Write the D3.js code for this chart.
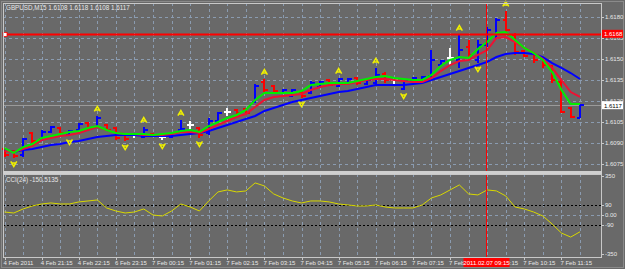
<!DOCTYPE html>
<html><head><meta charset="utf-8">
<script src="https://cdn.jsdelivr.net/npm/d3@7"></script>
<style>
html,body{margin:0;padding:0;background:#696969;}
svg{display:block;}
text{font-family:"Liberation Sans",Arial,sans-serif;}
</style></head>
<body>
<svg id="c" width="625" height="269"></svg>
<script>
// ---- data ----
const symbolTitle = "GBPUSD,M15  1.6108 1.6118 1.6108 1.6117";
const cciTitle = "CCI(24) -150.5135";
const opens = [1.60857,1.60843,1.60814,1.60971,1.60929,1.60979,1.61007,1.60957,1.60993,1.61043,
 1.61014,1.61029,1.61007,1.60957,1.60957,1.60943,1.60964,1.60943,1.60943,1.60993,
 1.61029,1.61007,1.60971,1.61057,1.61121,1.61136,1.61143,1.61193,1.61336,1.61307,
 1.61257,1.61236,1.61264,1.61257,1.61300,1.61350,1.61307,1.61329,1.61364,1.61321,
 1.61329,1.61393,1.61350,1.61286,1.61343,1.61350,1.61379,1.61457,1.61507,1.61493,
 1.61586,1.61493,1.61600,1.61671,1.61779,1.61671,1.61557,1.61543,1.61507,1.61450,
 1.61336,1.61150,1.6108];
const highs = [1.60864,1.60850,1.60936,1.60979,1.60993,1.61021,1.61014,1.60993,1.61043,1.61050,
 1.61093,1.61036,1.61014,1.60964,1.60971,1.61014,1.60971,1.60957,1.60979,1.61064,
 1.61057,1.61014,1.61079,1.61121,1.61150,1.61143,1.61150,1.61321,1.61357,1.61314,
 1.61286,1.61286,1.61271,1.61343,1.61343,1.61357,1.61364,1.61364,1.61371,1.61357,
 1.61436,1.61407,1.61364,1.61357,1.61371,1.61379,1.61564,1.61493,1.61579,1.61671,
 1.61636,1.61636,1.61729,1.61793,1.61843,1.61686,1.61564,1.61550,1.61514,1.61457,
 1.61350,1.61157,1.6118];
const lows = [1.60800,1.60793,1.60800,1.60900,1.60914,1.60971,1.60964,1.60950,1.60986,1.60993,
 1.61007,1.60986,1.60921,1.60914,1.60936,1.60936,1.60943,1.60921,1.60936,1.60986,
 1.60979,1.60936,1.60957,1.61043,1.61093,1.61107,1.61100,1.61186,1.61264,1.61264,
 1.61250,1.61229,1.61221,1.61250,1.61293,1.61307,1.61300,1.61321,1.61314,1.61314,
 1.61314,1.61329,1.61307,1.61279,1.61336,1.61343,1.61364,1.61450,1.61457,1.61436,
 1.61514,1.61471,1.61586,1.61650,1.61686,1.61529,1.61514,1.61471,1.61436,1.61329,
 1.61114,1.61079,1.6108];
const closes = [1.60814,1.60807,1.60929,1.60914,1.60979,1.61014,1.60971,1.60986,1.61036,1.61007,
 1.61079,1.60993,1.60936,1.60929,1.60957,1.60993,1.60950,1.60943,1.60971,1.61000,
 1.61029,1.60957,1.61057,1.61114,1.61121,1.61114,1.61114,1.61307,1.61279,1.61271,
 1.61279,1.61279,1.61236,1.61329,1.61336,1.61314,1.61357,1.61357,1.61329,1.61350,
 1.61386,1.61350,1.61350,1.61343,1.61364,1.61371,1.61493,1.61486,1.61507,1.61564,
 1.61529,1.61600,1.61707,1.61779,1.61707,1.61550,1.61521,1.61493,1.61457,1.61350,
 1.61121,1.61086,1.6117];
const maFast = [1.60864,1.60829,1.60871,1.60893,1.60936,1.60950,1.60964,1.60979,1.60986,1.61007,
 1.61021,1.60993,1.60971,1.60964,1.60964,1.60964,1.60957,1.60964,1.60971,1.60986,
 1.60993,1.60979,1.61021,1.61050,1.61079,1.61100,1.61136,1.61207,1.61257,1.61257,
 1.61257,1.61257,1.61271,1.61314,1.61321,1.61329,1.61329,1.61329,1.61343,1.61357,
 1.61371,1.61379,1.61364,1.61357,1.61350,1.61350,1.61386,1.61450,1.61493,1.61514,
 1.61507,1.61571,1.61621,1.61686,1.61693,1.61636,1.61579,1.61543,1.61493,1.61407,
 1.61279,1.61179,1.61179];
const maMid = [1.60843,1.60836,1.60857,1.60879,1.60921,1.60936,1.60950,1.60957,1.60971,1.60993,
 1.61014,1.60993,1.60971,1.60964,1.60964,1.60957,1.60957,1.60957,1.60964,1.60979,
 1.60979,1.60971,1.61000,1.61029,1.61057,1.61086,1.61107,1.61157,1.61207,1.61229,
 1.61236,1.61243,1.61250,1.61279,1.61300,1.61314,1.61321,1.61321,1.61336,1.61350,
 1.61357,1.61357,1.61350,1.61343,1.61336,1.61336,1.61364,1.61414,1.61457,1.61486,
 1.61493,1.61529,1.61564,1.61650,1.61657,1.61621,1.61579,1.61543,1.61500,1.61436,
 1.61350,1.61264,1.61229];
const maSlow = [1.60850,1.60836,1.60850,1.60857,1.60871,1.60886,1.60893,1.60907,1.60914,1.60929,
 1.60943,1.60950,1.60957,1.60957,1.60957,1.60950,1.60950,1.60950,1.60950,1.60957,
 1.60964,1.60971,1.60986,1.61007,1.61029,1.61050,1.61071,1.61093,1.61129,1.61150,
 1.61171,1.61193,1.61207,1.61221,1.61236,1.61250,1.61264,1.61271,1.61286,1.61300,
 1.61314,1.61314,1.61314,1.61314,1.61321,1.61329,1.61350,1.61371,1.61393,1.61414,
 1.61436,1.61457,1.61479,1.61514,1.61536,1.61543,1.61543,1.61536,1.61514,1.61471,
 1.61436,1.61400,1.61357];
const cci = [27,18,54,81,99,108,99,99,117,126,
 135,63,36,18,27,54,0,-9,36,99,
 72,36,126,207,225,207,216,288,261,189,
 153,126,108,126,126,117,99,90,81,81,
 90,72,63,63,63,90,153,180,225,270,
 189,180,225,216,171,72,54,27,-9,-81,
 -162,-198,-150.5];
const arrowUpIdx = [10,15,19,28,36,40,49,54];
const arrowDownIdx = [1,7,13,17,21,32,43,51];
const timeLabelIdx = [0,4,8,12,16,20,24,28,32,36,40,44,48,52,56,60];
const timeLabels = ["4 Feb 2011","4 Feb 21:15","4 Feb 22:15","6 Feb 23:15","7 Feb 00:15","7 Feb 01:15",
 "7 Feb 02:15","7 Feb 03:15","7 Feb 04:15","7 Feb 05:15","7 Feb 06:15","7 Feb 07:15","7 Feb 08:15",
 "7 Feb 09:15","7 Feb 10:15","7 Feb 11:15"];
const priceTicks = [1.6180,1.6165,1.6150,1.6135,1.6120,1.6105,1.6090,1.6075];
const cciTicks = [350,90,0,-90,-350];
const cciTickLabels = ["350","90","0.00","-90","-350"];
const cciLevels = [90,-90];
const hLinePrice = 1.6168;
const bidPrice = 1.6117;
const vLineIdx = 52;
const vLineLabel = "2011.02.07 09:15";

// ---- drawing ----
const svg = d3.select("#c");
const W = 625, H = 269;
const L = 3, R = 601, mainTop = 3, mainBot = 171, subTop = 174, subBot = 257;
const n = closes.length;
const x = d3.scaleLinear().domain([0, n - 1]).range([4.5, 580]);
const y = d3.scaleLinear().domain([1.6075, 1.6180]).range([164, 17]);
const yc = d3.scaleLinear().domain([-350, 350]).range([254, 176]);
const px = i => Math.round(x(i)) + 0.5;

svg.append("rect").attr("width", W).attr("height", H).attr("fill", "#696969");

const gridCol = "#8a9bb0";
const gridIdx = d3.range(0, n, 2);
[[mainTop, mainBot], [subTop, subBot]].forEach(([t, b]) => {
  svg.append("g").selectAll("line").data(gridIdx).join("line")
    .attr("x1", i => px(i)).attr("x2", i => px(i)).attr("y1", t).attr("y2", b)
    .attr("stroke", gridCol).attr("stroke-width", 1).attr("stroke-dasharray", "3,3")
    .attr("shape-rendering", "crispEdges");
});
svg.append("g").selectAll("line").data(priceTicks).join("line")
  .attr("x1", L).attr("x2", R).attr("y1", d => Math.round(y(d)) + 0.5).attr("y2", d => Math.round(y(d)) + 0.5)
  .attr("stroke", gridCol).attr("stroke-dasharray", "3,3").attr("shape-rendering", "crispEdges");
svg.append("line").attr("x1", L).attr("x2", R).attr("y1", Math.round(yc(0)) + 0.5).attr("y2", Math.round(yc(0)) + 0.5)
  .attr("stroke", gridCol).attr("stroke-dasharray", "3,3").attr("shape-rendering", "crispEdges");
svg.append("g").selectAll("line").data(cciLevels).join("line")
  .attr("x1", L).attr("x2", R).attr("y1", d => Math.round(yc(d)) + 0.5).attr("y2", d => Math.round(yc(d)) + 0.5)
  .attr("stroke", "#000").attr("stroke-dasharray", "2,2").attr("shape-rendering", "crispEdges");

svg.append("line").attr("x1", L).attr("x2", R).attr("y1", Math.round(y(bidPrice)) + 0.5).attr("y2", Math.round(y(bidPrice)) + 0.5)
  .attr("stroke", "#9a9a9a").attr("shape-rendering", "crispEdges");

// bars
const bars = d3.range(n).map(i => ({ i, o: opens[i], h: highs[i], l: lows[i], c: closes[i] }));
const barCol = d => d.c > d.o ? "#0000ff" : (d.c < d.o ? "#ff0000" : "#ffffff");
const gb = svg.append("g").attr("stroke-width", 2).attr("shape-rendering", "crispEdges");
gb.selectAll("path").data(bars).join("path")
  .attr("d", d => {
    const cx = Math.round(x(d.i));
    const yo = Math.round(y(d.o)), yh = Math.round(y(d.h)), yl = Math.round(y(d.l)), ycl = Math.round(y(d.c));
    return `M${cx},${yh}V${yl}M${cx - 3},${yo}H${cx}M${cx},${ycl}H${cx + 4}`;
  })
  .attr("stroke", barCol).attr("fill", "none");

// MAs
const line = d3.line().x((d, i) => x(i)).y(d => y(d));
svg.append("path").datum(maSlow).attr("d", line).attr("fill", "none").attr("stroke", "#0000ff").attr("stroke-width", 2);
svg.append("path").datum(maMid).attr("d", line).attr("fill", "none").attr("stroke", "#ee1133").attr("stroke-width", 2);
svg.append("path").datum(maFast).attr("d", line).attr("fill", "none").attr("stroke", "#00ee00").attr("stroke-width", 2);

// arrows
const arrowCol = "#f0f000";
svg.append("g").selectAll("path").data(arrowUpIdx).join("path")
  .attr("transform", i => `translate(${x(i)},${y(highs[i]) - 7})`)
  .attr("d", "M-3,2.5L0,-2.5L3,2.5M-1.8,1H1.8").attr("fill", "none").attr("stroke", arrowCol).attr("stroke-width", 1.5);
svg.append("g").selectAll("path").data(arrowDownIdx).join("path")
  .attr("transform", i => `translate(${x(i)},${y(lows[i]) + 6})`)
  .attr("d", "M-3,-2.5L0,2.5L3,-2.5M-1.8,-1H1.8").attr("fill", "none").attr("stroke", arrowCol).attr("stroke-width", 1.5);

// CCI line
const cline = d3.line().x((d, i) => x(i)).y(d => yc(d));
svg.append("path").datum(cci).attr("d", cline).attr("fill", "none").attr("stroke", "#d8d800").attr("stroke-width", 1);

// horizontal red line
const hy = Math.round(y(hLinePrice)) + 0.5;
svg.append("line").attr("x1", L).attr("x2", R).attr("y1", hy).attr("y2", hy).attr("stroke", "#ff0000").attr("stroke-width", 2);
svg.append("rect").attr("x", 3).attr("y", hy - 2).attr("width", 4).attr("height", 4).attr("fill", "#fff").attr("stroke", "#ff0000").attr("stroke-width", 0.8);

// vertical red line
const vx = Math.round(x(vLineIdx)) - 0.5;
svg.append("line").attr("x1", vx).attr("x2", vx).attr("y1", mainTop).attr("y2", subBot).attr("stroke", "#ff0000").attr("stroke-width", 1).attr("shape-rendering", "crispEdges");

// frames
const frameCol = "#c8c8c8";
svg.append("rect").attr("x", 1.5).attr("y", 1.5).attr("width", W - 3).attr("height", H - 3).attr("fill", "none").attr("stroke", "#8a8a8a");
svg.append("rect").attr("x", L + 0.5).attr("y", mainTop + 0.5).attr("width", R - L).attr("height", mainBot - mainTop).attr("fill", "none").attr("stroke", frameCol);
svg.append("rect").attr("x", L).attr("y", mainBot).attr("width", R - L + 1).attr("height", subTop - mainBot).attr("fill", "#cfcfcf");
svg.append("rect").attr("x", L + 0.5).attr("y", subTop + 0.5).attr("width", R - L).attr("height", subBot - subTop).attr("fill", "none").attr("stroke", frameCol);

// titles
svg.append("text").attr("x", 6).attr("y", 10).attr("font-size", 6.3).attr("fill", "#e8e8e8").text(symbolTitle);
svg.append("text").attr("x", 6).attr("y", 182).attr("font-size", 6.3).attr("fill", "#e8e8e8").text(cciTitle);

// price axis
const ga = svg.append("g");
ga.selectAll("line").data(priceTicks).join("line")
  .attr("x1", R).attr("x2", R + 3).attr("y1", d => Math.round(y(d)) + 0.5).attr("y2", d => Math.round(y(d)) + 0.5)
  .attr("stroke", frameCol).attr("shape-rendering", "crispEdges");
ga.selectAll("text").data(priceTicks).join("text")
  .attr("x", R + 4).attr("y", d => y(d) + 2.3).attr("font-size", 6).attr("fill", "#e8e8e8").text(d => d.toFixed(4));
const gc = svg.append("g");
gc.selectAll("text").data(cciTicks).join("text")
  .attr("x", R + 4).attr("y", d => yc(d) + 2.3).attr("font-size", 6).attr("fill", "#e8e8e8")
  .text((d, i) => cciTickLabels[i]);
gc.selectAll("line").data(cciTicks).join("line")
  .attr("x1", R).attr("x2", R + 3).attr("y1", d => Math.round(yc(d)) + 0.5).attr("y2", d => Math.round(yc(d)) + 0.5)
  .attr("stroke", frameCol).attr("shape-rendering", "crispEdges");

const lbl = (py, txt, fill, tcol) => {
  svg.append("rect").attr("x", R + 1).attr("y", py - 4).attr("width", 21).attr("height", 8).attr("fill", fill);
  svg.append("text").attr("x", R + 3).attr("y", py + 2.3).attr("font-size", 6).attr("fill", tcol).text(txt);
};
lbl(y(hLinePrice), hLinePrice.toFixed(4), "#ff0000", "#ffffff");
lbl(y(bidPrice), bidPrice.toFixed(4), "#ffffff", "#000000");

// time axis
const gt = svg.append("g");
gt.selectAll("line").data(timeLabelIdx).join("line")
  .attr("x1", i => px(i)).attr("x2", i => px(i)).attr("y1", subBot).attr("y2", subBot + 3)
  .attr("stroke", frameCol).attr("shape-rendering", "crispEdges");
gt.selectAll("text").data(timeLabelIdx).join("text")
  .attr("x", i => x(i) - 1).attr("y", 265).attr("font-size", 6).attr("fill", "#e8e8e8")
  .text((d, k) => timeLabels[k]);
svg.append("rect").attr("x", vx - 23).attr("y", 258).attr("width", 46).attr("height", 9).attr("fill", "#ff0000");
svg.append("text").attr("x", vx).attr("y", 265).attr("text-anchor", "middle").attr("font-size", 6).attr("fill", "#ffffff").text(vLineLabel);
</script>
</body></html>
